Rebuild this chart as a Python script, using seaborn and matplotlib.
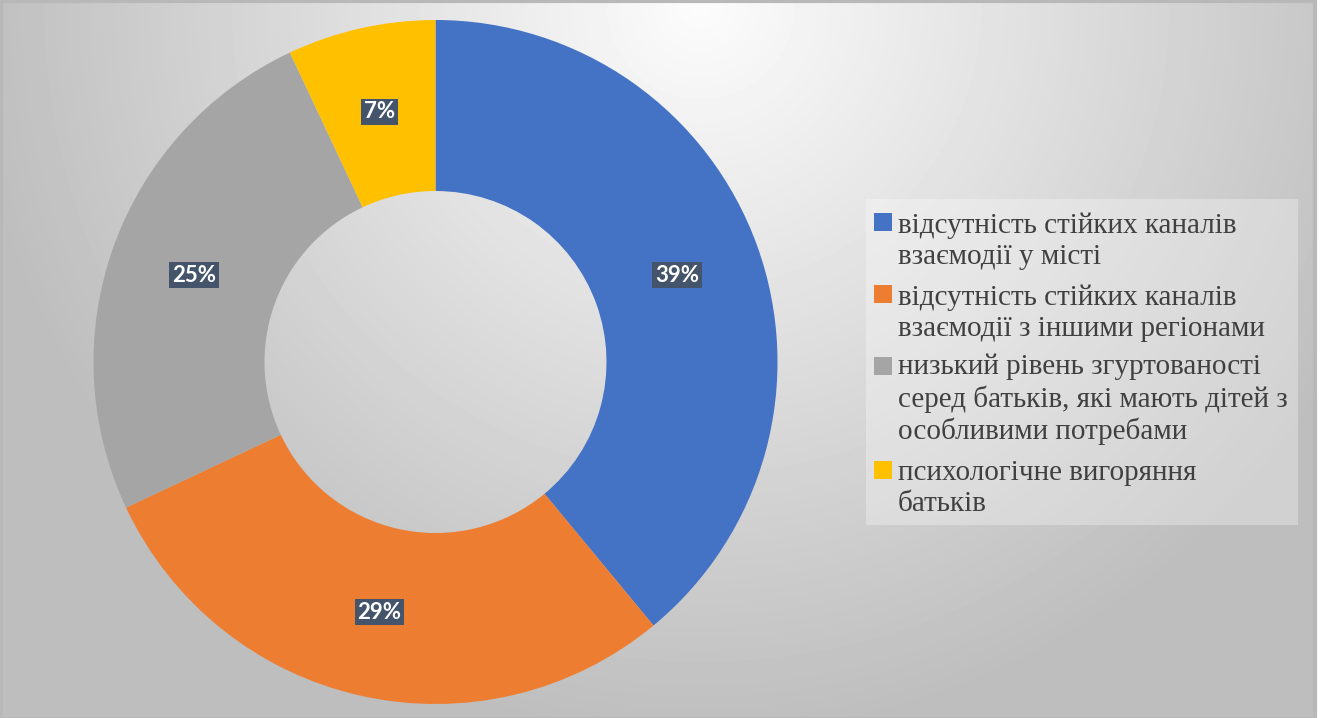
import numpy as np
import matplotlib
matplotlib.use('Agg')
import matplotlib.pyplot as plt
from matplotlib.patches import Rectangle
import seaborn as sns

# data
categories = ['відсутність стійких каналів\nвзаємодії у місті',
              'відсутність стійких каналів\nвзаємодії з іншими регіонами',
              'низький рівень згуртованості\nсеред батьків, які мають дітей з\nособливими потребами',
              'психологічне вигоряння\nбатьків']
shares = [39, 29, 25, 7]
colours = ['#4472C4', '#ED7D31', '#A5A5A5', '#FFC000']

sns.set_style('white')
plt.rcParams['font.family'] = ['DejaVu Sans']

W, H = 1323, 718
fig = plt.figure(figsize=(W / 100, H / 100), dpi=100, facecolor='white')

# background: radial grey gradient, brightest near the top middle
bg = fig.add_axes([0, 0, 1, 1])
yy, xx = np.mgrid[0:H, 0:1316]
dist = np.sqrt((xx - 700) ** 2 + (yy - 5) ** 2)
shade = np.clip(252 - 0.085 * dist, 190, 255) / 255
bg.imshow(shade, cmap='gray', vmin=0, vmax=1, extent=[0, 1316, H, 0], aspect='auto', interpolation='bilinear')
bg.add_patch(Rectangle((1, 1), 1314, H, fill=False, edgecolor='#B8B8B8', linewidth=3))
bg.set_xlim(0, W)
bg.set_ylim(H, 0)
bg.axis('off')

# donut
cx, cy, r = 435.5, 362, 342
ax = fig.add_axes([(cx - r) / W, (H - cy - r) / H, 2 * r / W, 2 * r / H])
wedges, _, autotexts = ax.pie(shares, colors=sns.color_palette(colours), startangle=90, counterclock=False,
                              radius=1, autopct='%1.0f%%', pctdistance=0.75,
                              wedgeprops=dict(width=0.5, linewidth=0))
for t in autotexts:
    t.set_color('white')
    t.set_fontweight('bold')
    t.set_fontsize(16)
    t.set_family(['Lato', 'DejaVu Sans'])
    t.set_bbox(dict(boxstyle='square,pad=0.12', facecolor='#44546A', edgecolor='none'))
ax.set_xlim(-1, 1)
ax.set_ylim(-1, 1)
ax.axis('off')

# legend, laid out by hand so the squares sit on the first line
line_h, gap = 31.5, 9
bg.add_patch(Rectangle((866, 199), 432, 326, facecolor='white', alpha=0.3, edgecolor='none'))
y = 232  # baseline of the first line of each entry
for lab, col in zip(categories, colours):
    n = lab.count('\n') + 1
    bg.add_patch(Rectangle((874, y - 19), 18, 18, facecolor=col, edgecolor='none'))
    # va='baseline' pins the last line, so anchor there
    bg.text(898, y + (n - 1) * line_h, lab, fontsize=21, family=['Liberation Serif'], color='#404040',
            va='baseline', ha='left', linespacing=1.23)
    y += n * line_h + gap

fig.savefig('out.png', dpi=100, facecolor='white')
